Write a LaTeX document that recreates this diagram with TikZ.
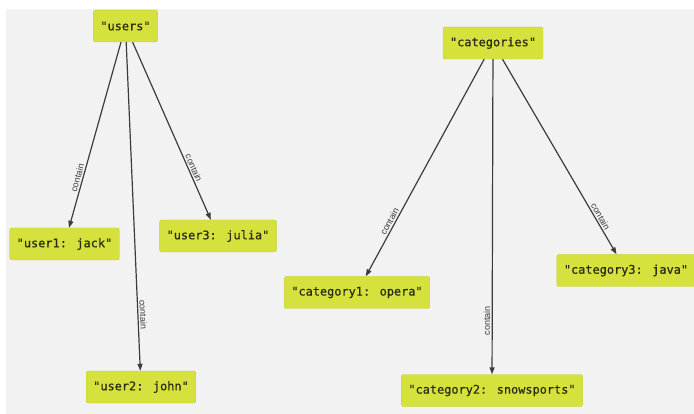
\documentclass[tikz,border=0pt]{standalone}
\usepackage{fontspec}
\setmainfont{Liberation Sans}
\newfontfamily\keyfont[FakeBold=0.5]{DejaVu Sans Mono}
\usetikzlibrary{arrows.meta}

\definecolor{keyfill}{HTML}{D5E13C}
\definecolor{keyline}{HTML}{C4CF2E}
\definecolor{keytext}{HTML}{2B2B14}
\definecolor{canvas}{HTML}{F2F2F2}
\definecolor{linkline}{HTML}{3C3C3C}

\tikzset{
	key/.style={draw=keyline, fill=keyfill, rounded corners=2pt, text=keytext,
		font=\keyfont\fontsize{11.9}{13}\selectfont, minimum height=32pt, inner xsep=7pt},
	link/.style={-{Triangle[length=7pt, width=5pt]}, linkline, line width=1.2pt},
	rel/.style={sloped, above, inner sep=1.5pt, text=linkline, font=\fontsize{9}{10}\selectfont}
}

\begin{document}
\begin{tikzpicture}[x=1pt, y=-1pt]
		\useasboundingbox (0, 0) rectangle (694, 414);
		\fill [canvas]	(6, 9) rectangle (694, 414);

		% users and their entries
		\node [key] (users)	at (125.5, 26)	{"users"};
		\node [key] (user1)	at (64.5, 244)	{"user1: jack"};
		\node [key] (user2)	at (141, 387)	{"user2: john"};
		\node [key] (user3)	at (218, 236)	{"user3: julia"};

		% categories and their entries
		\node [key] (cats)	at (493, 43)	{"categories"};
		\node [key] (cat1)	at (357, 292.5)	{"category1: opera"};
		\node [key] (cat2)	at (492, 390.5)	{"category2: snowsports"};
		\node [key] (cat3)	at (626, 270.5)	{"category3: java"};

		\draw [link]	(users) to node[rel, pos=0.74]{contain} (user1);
		\draw [link]	(users) to node[rel, pos=0.83]{contain} (user2);
		\draw [link]	(users) to node[rel, pos=0.72]{contain} (user3);

		\draw [link]	(cats) to node[rel, pos=0.76]{contain} (cat1);
		\draw [link]	(cats) to node[rel, pos=0.83]{contain} (cat2);
		\draw [link]	(cats) to node[rel, pos=0.82]{contain} (cat3);
	\end{tikzpicture}
\end{document}
